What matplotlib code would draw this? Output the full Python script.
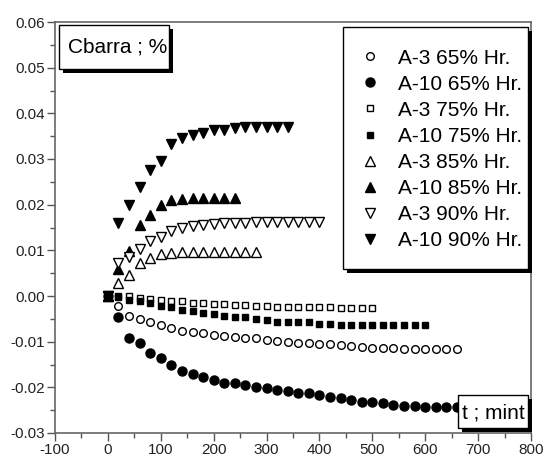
import matplotlib
matplotlib.use("Agg")
import matplotlib.pyplot as plt
import matplotlib.patheffects as pe
from matplotlib.patches import Rectangle
from matplotlib.ticker import MultipleLocator, FormatStrFormatter

plt.rcParams['font.family'] = ['Liberation Sans', 'DejaVu Sans']
plt.rcParams['axes.unicode_minus'] = False

# sampling times (min), shared by all series
t_min = [0, 20, 40, 60, 80, 100, 120, 140, 160, 180, 200, 220, 240, 260, 280,
         300, 320, 340, 360, 380, 400, 420, 440, 460, 480, 500, 520, 540, 560,
         580, 600, 620, 640, 660]

# Cbarra (%) per series
a3_65 = [0, -0.0022, -0.0043, -0.0051, -0.0058, -0.0064, -0.0071, -0.0076,
         -0.0079, -0.0082, -0.0086, -0.0088, -0.0090, -0.0091, -0.0093, -0.0096,
         -0.0098, -0.0100, -0.0102, -0.0103, -0.0105, -0.0105, -0.0107, -0.0110,
         -0.0111, -0.0113, -0.0113, -0.0113, -0.0115, -0.0117, -0.0117, -0.0117,
         -0.0117, -0.0115]
a10_65 = [0, -0.0045, -0.0091, -0.0102, -0.0124, -0.0135, -0.0151, -0.0164,
          -0.0171, -0.0178, -0.0184, -0.0191, -0.0191, -0.0195, -0.0199, -0.0202,
          -0.0206, -0.0207, -0.0212, -0.0213, -0.0217, -0.0221, -0.0224, -0.0227,
          -0.0232, -0.0232, -0.0235, -0.0239, -0.0241, -0.0241, -0.0243, -0.0243,
          -0.0243, -0.0243]
a3_75 = [0, -0.0001, -0.0001, -0.0005, -0.0007, -0.0009, -0.0011, -0.0012,
         -0.0015, -0.0016, -0.0018, -0.0018, -0.0020, -0.0020, -0.0021, -0.0021,
         -0.0023, -0.0024, -0.0024, -0.0025, -0.0025, -0.0025, -0.0026, -0.0026,
         -0.0027, -0.0027]
a10_75 = [0, -0.0002, -0.0009, -0.0011, -0.0015, -0.0022, -0.0025, -0.0031,
          -0.0032, -0.0037, -0.0039, -0.0044, -0.0047, -0.0047, -0.0051, -0.0053,
          -0.0056, -0.0056, -0.0058, -0.0058, -0.0061, -0.0061, -0.0063, -0.0064,
          -0.0064, -0.0064, -0.0064, -0.0064, -0.0064, -0.0064, -0.0064]
a3_85 = [0, 0.0028, 0.0046, 0.0073, 0.0083, 0.0091, 0.0095, 0.0096, 0.0096,
         0.0096, 0.0096, 0.0096, 0.0096, 0.0096, 0.0096]
a10_85 = [0, 0.0059, 0.0099, 0.0155, 0.0178, 0.0200, 0.0210, 0.0213, 0.0214,
          0.0214, 0.0215, 0.0215, 0.0215]
a3_90 = [0, 0.0072, 0.0086, 0.0103, 0.0121, 0.0130, 0.0143, 0.0148, 0.0153,
         0.0156, 0.0158, 0.0159, 0.0160, 0.0160, 0.0161, 0.0162, 0.0162, 0.0163,
         0.0163, 0.0163, 0.0163]
a10_90 = [0, 0.0160, 0.0200, 0.0238, 0.0276, 0.0296, 0.0333, 0.0345, 0.0353,
          0.0358, 0.0363, 0.0364, 0.0367, 0.0369, 0.0370, 0.0370, 0.0370, 0.0370]

labels = ['A-3 65% Hr.', 'A-10 65% Hr.', 'A-3 75% Hr.', 'A-10 75% Hr.',
          'A-3 85% Hr.', 'A-10 85% Hr.', 'A-3 90% Hr.', 'A-10 90% Hr.']
series = [a3_65, a10_65, a3_75, a10_75, a3_85, a10_85, a3_90, a10_90]
markers = ['o', 'o', 's', 's', '^', '^', 'v', 'v']
sizes = [5.5, 6.5, 4.8, 4.8, 7, 7, 7, 7]
filled = [False, True, False, True, False, True, False, True]

fig = plt.figure(figsize=(5.45, 4.59), dpi=100)
ax = fig.add_axes([55 / 545, 1 - 433 / 459, 476 / 545, 411 / 459])

for vals, lab, m, ms, f in zip(series, labels, markers, sizes, filled):
    ax.plot(t_min[:len(vals)], vals, linestyle='none', marker=m, markersize=ms,
            markeredgecolor='black', markeredgewidth=1.0,
            markerfacecolor='black' if f else 'white', label=lab)

ax.set_xlim(-100, 800)
ax.set_ylim(-0.03, 0.06)
ax.xaxis.set_major_locator(MultipleLocator(100))
ax.xaxis.set_minor_locator(MultipleLocator(50))
ax.yaxis.set_major_locator(MultipleLocator(0.01))
ax.yaxis.set_minor_locator(MultipleLocator(0.005))
ax.yaxis.set_major_formatter(FormatStrFormatter('%.2f'))
ax.tick_params(which='major', direction='out', length=6, width=1,
               color='#555555', labelsize=11, labelcolor='#222222', pad=1.5)
ax.tick_params(which='minor', direction='out', length=3.5, width=1,
               color='#555555')
for sp in ax.spines.values():
    sp.set_color('#666666')
    sp.set_linewidth(1.2)

shadow = [pe.SimplePatchShadow(offset=(3, -3), shadow_rgbFace='black', alpha=1),
          pe.Normal()]


def shadow_box(x0, y0, x1, y1):
    r = Rectangle((x0, y0), x1 - x0, y1 - y0, transform=ax.transAxes,
                  facecolor='white', edgecolor='black', linewidth=1.0,
                  clip_on=False, zorder=5)
    r.set_path_effects(shadow)
    ax.add_patch(r)


# y label box
shadow_box(0.0084, 0.8856, 0.2395, 0.9927)
ax.text(0.0273, 0.9246, 'Cbarra ; %', transform=ax.transAxes, fontsize=15,
        va='baseline', ha='left', zorder=6)

# x label box
shadow_box(0.8465, 0.0114, 0.9943, 0.0925)
ax.text(0.855, 0.0357, 't ; mint', transform=ax.transAxes, fontsize=15,
        va='baseline', ha='left', zorder=6)

# legend box
shadow_box(0.6057, 0.3983, 0.9943, 0.9886)
leg = ax.legend(loc='upper left', bbox_to_anchor=(0.6395, 0.9353),
                borderaxespad=0, borderpad=0, frameon=False, fontsize=15,
                handlelength=1.0, handletextpad=0.84, labelspacing=0.34,
                numpoints=1)
leg.set_zorder(6)

fig.savefig('out.png', dpi=100)
